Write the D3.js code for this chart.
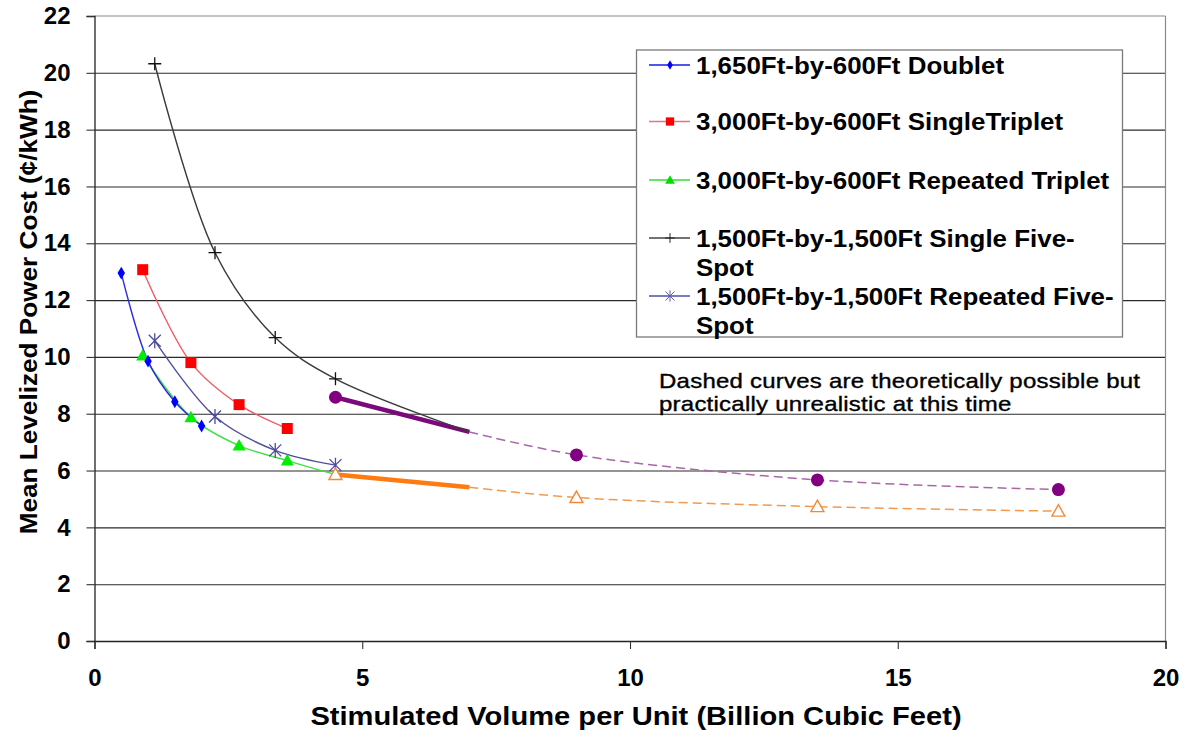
<!DOCTYPE html>
<html>
<head>
<meta charset="utf-8">
<script src="https://cdn.jsdelivr.net/npm/d3@7"></script>
<style>
  html, body { margin: 0; padding: 0; background: #fff; }
  svg { display: block; }
  text { font-family: "Liberation Sans", Arial, sans-serif; }
</style>
</head>
<body>
<svg id="chart" width="1187" height="738"></svg>
<script>
// ---- data (billion cubic feet vs. cents per kWh) ----
const doubletX = [0.5, 1.0, 1.5, 2.0];
const doubletY = [12.95, 9.85, 8.42, 7.57];

const singleTripletX = [0.9, 1.8, 2.7, 3.6];
const singleTripletY = [13.07, 9.8, 8.32, 7.48];

const repeatedTripletX = [0.9, 1.8, 2.7, 3.6, 4.5];
const repeatedTripletY = [10.05, 7.88, 6.88, 6.35, 5.86];

const singleFiveSpotX = [1.125, 2.25, 3.375, 4.5, 7.0];
const singleFiveSpotY = [20.32, 13.67, 10.68, 9.23, 7.36];
const singleFiveSpotMarked = [true, true, true, true, false];

const repeatedFiveSpotX = [1.125, 2.25, 3.375, 4.5];
const repeatedFiveSpotY = [10.57, 7.9, 6.71, 6.19];

// extrapolated curves: solid up to 7, dashed beyond
const purpleX = [4.5, 7.0, 9.0, 13.5, 18.0];
const purpleY = [8.58, 7.36, 6.55, 5.67, 5.33];
const purpleMarked = [true, false, true, true, true];

const orangeX = [4.5, 7.0, 9.0, 13.5, 18.0];
const orangeY = [5.86, 5.41, 5.05, 4.73, 4.57];
const orangeMarked = [true, false, true, true, true];

const solidLimit = 7.0;

const xTicks = [0, 5, 10, 15, 20];
const yTicks = [0, 2, 4, 6, 8, 10, 12, 14, 16, 18, 20, 22];

const legendLabels = [
  ["1,650Ft-by-600Ft Doublet"],
  ["3,000Ft-by-600Ft SingleTriplet"],
  ["3,000Ft-by-600Ft Repeated Triplet"],
  ["1,500Ft-by-1,500Ft Single Five-", "Spot"],
  ["1,500Ft-by-1,500Ft Repeated Five-", "Spot"]
];
const noteLines = [
  "Dashed curves are theoretically  possible but",
  "practically unrealistic at this time"
];
const xTitle = "Stimulated Volume per Unit (Billion Cubic Feet)";
const yTitle = "Mean Levelized Power Cost (\u00A2/kWh)";

// ---- layout ----
const svg = d3.select("#chart");
const plot = { left: 94.5, right: 1165.5, top: 16, bottom: 641 };

const x = d3.scaleLinear().domain([0, 20]).range([plot.left, plot.right]);
const y = d3.scaleLinear().domain([0, 22]).range([plot.bottom, plot.top]);

// horizontally stretched text helper
function stretchedText(g, tx, ty, str, sx, attrs) {
  const t = g.append("text")
    .attr("transform", `translate(${tx},${ty}) scale(${sx},1)`)
    .text(str);
  Object.entries(attrs || {}).forEach(([k, v]) => t.attr(k, v));
  return t;
}

// gridlines
svg.append("g")
  .attr("transform", `translate(${plot.left},0)`)
  .call(d3.axisLeft(y).tickValues(yTicks.filter(v => v > 0 && v < 22))
    .tickSize(-(plot.right - plot.left)).tickFormat(""))
  .call(g => g.select(".domain").remove())
  .call(g => g.selectAll("line").attr("stroke", "#2a2a2a").attr("stroke-width", 1.1));

// top and right frame
svg.append("line").attr("x1", plot.left).attr("x2", plot.right)
  .attr("y1", plot.top).attr("y2", plot.top).attr("stroke", "#8a8a8a").attr("stroke-width", 1.2);
svg.append("line").attr("x1", plot.right).attr("x2", plot.right)
  .attr("y1", plot.top).attr("y2", plot.bottom).attr("stroke", "#8a8a8a").attr("stroke-width", 1.2);

// axes
const yAxis = svg.append("g")
  .attr("transform", `translate(${plot.left},0)`)
  .call(d3.axisLeft(y).tickValues(yTicks).tickSizeOuter(0).tickSize(8).tickPadding(16));
const xAxis = svg.append("g")
  .attr("transform", `translate(0,${plot.bottom})`)
  .call(d3.axisBottom(x).tickValues(xTicks).tickSizeOuter(0).tickSize(8).tickPadding(20));
[yAxis, xAxis].forEach(g => {
  g.select(".domain").attr("stroke", "#222").attr("stroke-width", 1.3);
  g.selectAll(".tick line").attr("stroke", "#333").attr("stroke-width", 1.1);
  g.selectAll(".tick text").attr("fill", "#000").attr("font-size", 24)
    .attr("font-weight", "bold").attr("font-family", "Liberation Sans, Arial, sans-serif");
});

// axis titles
stretchedText(svg, 636, 725, xTitle, 1.12,
  { "text-anchor": "middle", "font-size": 26, "font-weight": "bold", fill: "#000" });
svg.append("text")
  .attr("transform", `translate(37,312) rotate(-90) scale(1.09,1)`)
  .attr("text-anchor", "middle").attr("font-size", 24).attr("font-weight", "bold")
  .attr("fill", "#000").text(yTitle);

// ---- series drawing ----
const zip = (xs, ys) => xs.map((v, i) => [v, ys[i]]);
const smooth = d3.line().x(d => x(d[0])).y(d => y(d[1])).curve(d3.curveCatmullRom.alpha(0.5));

const symbols = {
  diamond: (g, c) => g.append("path").attr("d", d3.symbol(d3.symbolDiamond, 48)()).attr("fill", c),
  square: (g, c) => g.append("rect").attr("x", -5.5).attr("y", -5.5).attr("width", 11).attr("height", 11).attr("fill", c),
  triangle: (g, c) => g.append("path").attr("d", "M0,-6.5L6.5,5L-6.5,5Z").attr("fill", c),
  plus: (g, c) => g.append("path").attr("d", "M-6.5,0H6.5M0,-6.5V6.5").attr("stroke", c).attr("stroke-width", 1.3),
  asterisk: (g, c) => g.append("path").attr("d", "M-6,-6L6,6M-6,6L6,-6M0,-7.5V7.5").attr("stroke", c).attr("stroke-width", 1.3),
  dot: (g, c) => g.append("circle").attr("r", 6.5).attr("fill", c),
  hollowTriangle: (g, c) => g.append("path").attr("d", "M0,-6.5L6.5,5L-6.5,5Z").attr("fill", "#fff").attr("stroke", c).attr("stroke-width", 1.4)
};

function drawMarkers(pts, marked, sym, color) {
  pts.forEach((p, i) => {
    if (marked && !marked[i]) return;
    const g = svg.append("g").attr("transform", `translate(${x(p[0])},${y(p[1])})`);
    symbols[sym](g, color);
  });
}

function drawSeries(xs, ys, lineColor) {
  const pts = zip(xs, ys);
  svg.append("path").attr("d", smooth(pts)).attr("fill", "none")
    .attr("stroke", lineColor).attr("stroke-width", 1.4);
  return pts;
}

function drawExtrapolated(xs, ys, solidColor, dashColor) {
  const pts = zip(xs, ys);
  const solidPts = pts.filter(p => p[0] <= solidLimit);
  const dashPts = pts.filter(p => p[0] >= solidLimit);
  svg.append("path").attr("d", smooth(dashPts)).attr("fill", "none")
    .attr("stroke", dashColor).attr("stroke-width", 1.5).attr("stroke-dasharray", "9,5");
  svg.append("path").attr("d", smooth(solidPts)).attr("fill", "none")
    .attr("stroke", solidColor).attr("stroke-width", 4.5);
  return pts;
}

const orangePts = drawExtrapolated(orangeX, orangeY, "#ff7a10", "#f39a4a");
const purplePts = drawExtrapolated(purpleX, purpleY, "#7a0a7a", "#a868a8");

const rtPts = drawSeries(repeatedTripletX, repeatedTripletY, "#3fe03f");
const dbPts = drawSeries(doubletX, doubletY, "#2a2ae0");
const rfPts = drawSeries(repeatedFiveSpotX, repeatedFiveSpotY, "#50509a");
const stPts = drawSeries(singleTripletX, singleTripletY, "#f05a66");
const sfPts = drawSeries(singleFiveSpotX, singleFiveSpotY, "#3a3a3a");

drawMarkers(rtPts, null, "triangle", "#00ee00");
drawMarkers(dbPts, null, "diamond", "#0000ff");
drawMarkers(rfPts, null, "asterisk", "#4a4aa0");
drawMarkers(stPts, null, "square", "#ff0000");
drawMarkers(sfPts, singleFiveSpotMarked, "plus", "#111");
drawMarkers(purplePts, purpleMarked, "dot", "#800080");
drawMarkers(orangePts, orangeMarked, "hollowTriangle", "#f08a3a");

// ---- note ----
noteLines.forEach((s, i) => {
  stretchedText(svg, 659, 388 + i * 23, s, 1.2,
    { "font-size": 20, fill: "#000", "letter-spacing": 0.2, stroke: "#000", "stroke-width": 0.35 });
});

// ---- legend ----
const legend = svg.append("g");
legend.append("rect").attr("x", 636.5).attr("y", 50).attr("width", 486).attr("height", 287)
  .attr("fill", "#fff").attr("stroke", "#7a7a7a").attr("stroke-width", 1.3);

const legendStyles = [
  { line: "#1a1ae8", sym: "diamond", mark: "#0000ff" },
  { line: "#e8708a", sym: "square", mark: "#ff0000" },
  { line: "#33dd33", sym: "triangle", mark: "#00dd00" },
  { line: "#444", sym: "plus", mark: "#222" },
  { line: "#5050a0", sym: "asterisk", mark: "#5a5ab0" }
];
const legendRows = [65, 121.5, 180, 238, 296];

legendLabels.forEach((lines, i) => {
  const cy = legendRows[i];
  const st = legendStyles[i];
  legend.append("line").attr("x1", 649).attr("x2", 690).attr("y1", cy).attr("y2", cy)
    .attr("stroke", st.line).attr("stroke-width", 1.3);
  const g = legend.append("g").attr("transform", `translate(670,${cy}) scale(0.75)`);
  symbols[st.sym](g, st.mark);
  lines.forEach((s, j) => {
    stretchedText(legend, 696, cy + 8.5 + j * 29.5, s, 1.08,
      { "font-size": 24, "font-weight": "bold", fill: "#000" });
  });
});
</script>
</body>
</html>
